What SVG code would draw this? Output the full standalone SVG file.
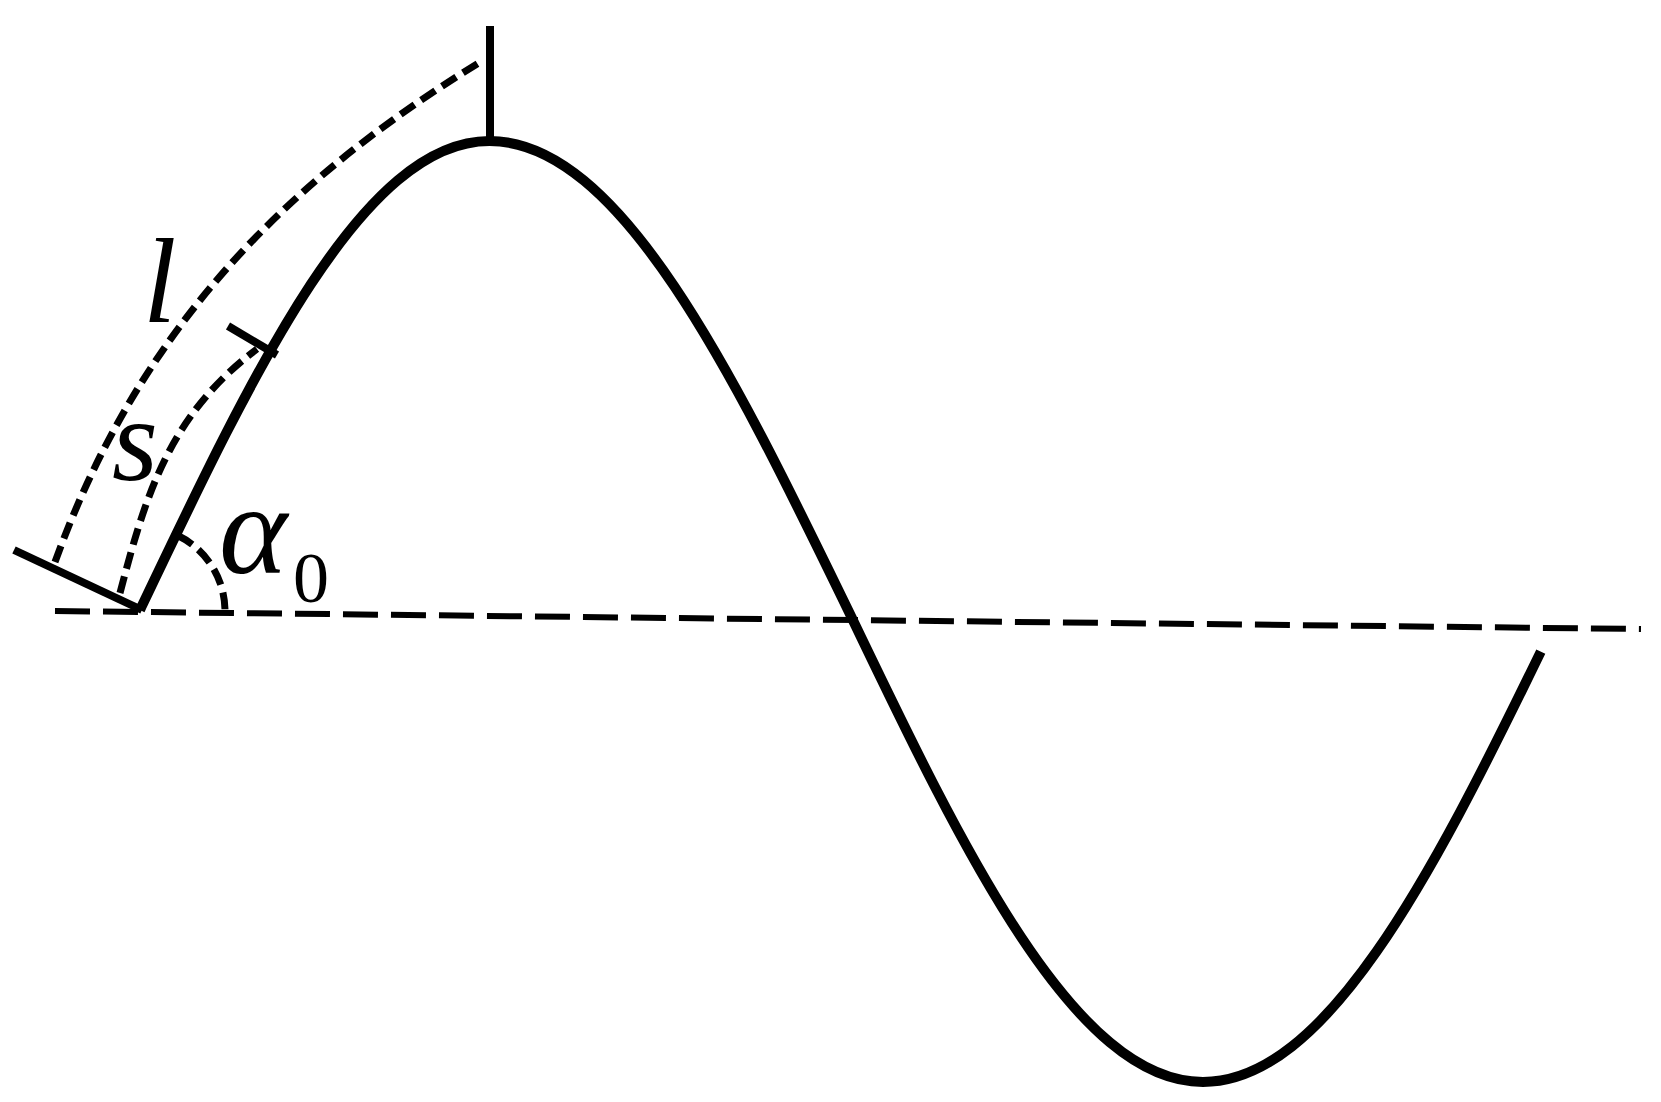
<svg xmlns="http://www.w3.org/2000/svg" width="1661" height="1102" viewBox="0 0 1661 1102">
<style>
.curve{fill:none;stroke:#000;stroke-width:10;stroke-linecap:butt;stroke-linejoin:round}
.tick{fill:none;stroke:#000;stroke-width:8;stroke-linecap:butt}
.axis{fill:none;stroke:#000;stroke-width:6;stroke-dasharray:35 13}
.arc{fill:none;stroke:#000;stroke-width:7;stroke-dasharray:17 8}
</style>
<rect width="1661" height="1102" fill="#fff"/>
<g id="axis">
<line class="axis" x1="55" y1="611" x2="1641" y2="629"/>
</g>
<g id="wave">
<path class="curve" d="M140,610 C254,370.5 362.7,141 489.5,141 C619.6,141 731.8,370.7 849,612 C964.4,852.8 1074.9,1082 1203,1082 C1325.1,1082 1431.3,877.3 1540.8,651.6"/>
</g>
<g id="ticks">
<line class="tick" x1="14" y1="550" x2="142" y2="610"/>
<line class="tick" x1="228" y1="326" x2="277" y2="355"/>
<line class="tick" x1="490" y1="26" x2="490" y2="138"/>
</g>
<g id="arcs">
<path class="arc" d="M55,562 C136.6,336.4 277,185.8 482,61"/>
<path class="arc" d="M120,593 C145.3,496.3 169,415 257,349"/>
<path class="arc" d="M177.8,535.5 A84,84 0 0 1 225,611"/>
</g>
<g id="labels" font-family="'Liberation Serif', 'Times New Roman', serif" fill="#000">
<text x="143" y="322" font-size="120" font-style="italic">l</text>
<text x="112" y="480" font-size="118" font-style="italic">s</text>
<text x="219" y="573" font-size="130" font-style="italic">α</text>
<text x="293" y="602" font-size="72">0</text>
</g>
</svg>
